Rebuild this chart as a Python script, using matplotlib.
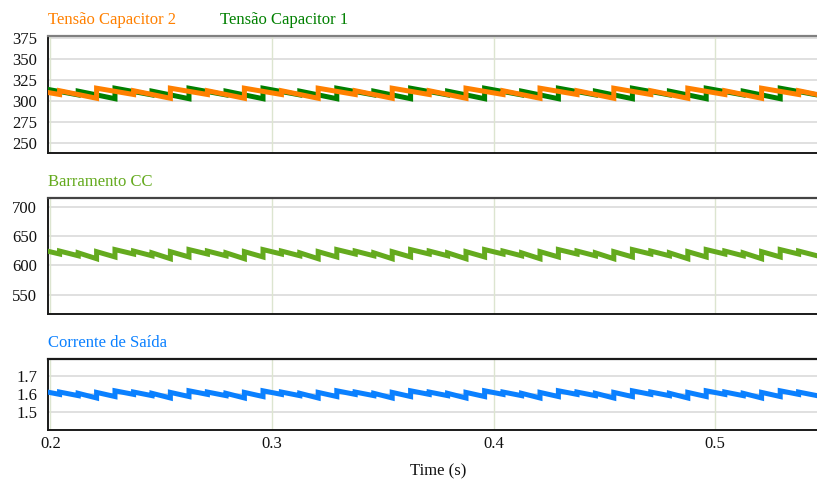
import matplotlib
matplotlib.use("Agg")
import matplotlib.pyplot as plt
import numpy as np

plt.rcParams['font.family'] = ['Liberation Serif', 'DejaVu Serif']

# ---------------- data ----------------
x_limits = (0.19901, 0.5459)
x_ticks = [0.2, 0.3, 0.4, 0.5]
x_ticklabels = ["0.2", "0.3", "0.4", "0.5"]

# Tensão Capacitor 2 (orange): jump instants, value before / after each jump
cap2_t = [0.2041, 0.2208, 0.2375, 0.2541, 0.2708, 0.2875, 0.3042, 0.3208, 0.3375,
          0.3542, 0.3709, 0.3875, 0.4042, 0.4209, 0.4376, 0.4542, 0.4709, 0.4876,
          0.5043, 0.5209, 0.5376]
cap2_before = [308.0, 303.5, 308.0, 303.5, 308.0, 303.5, 308.0, 303.5, 308.0, 303.5,
               308.0, 303.5, 308.0, 303.5, 308.0, 303.5, 308.0, 303.5, 308.0, 303.5, 308.0]
cap2_after = [312.5, 315.5, 312.5, 315.5, 312.5, 315.5, 312.5, 315.5, 312.5, 315.5,
              312.5, 315.5, 312.5, 315.5, 312.5, 315.5, 312.5, 315.5, 312.5, 315.5, 312.5]
cap2_start, cap2_end = 310.3, 308.0

# Tensão Capacitor 1 (green)
cap1_t = [0.2125, 0.2291, 0.2458, 0.2625, 0.2792, 0.2959, 0.3125, 0.3292, 0.3459,
          0.3625, 0.3792, 0.3959, 0.4126, 0.4292, 0.4459, 0.4626, 0.4793, 0.4959,
          0.5126, 0.5293]
cap1_before = [307.5, 303.0, 307.5, 303.0, 307.5, 303.0, 307.5, 303.0, 307.5, 303.0,
               307.5, 303.0, 307.5, 303.0, 307.5, 303.0, 307.5, 303.0, 307.5, 303.0]
cap1_after = [312.0, 315.5, 312.0, 315.5, 312.0, 315.5, 312.0, 315.5, 312.0, 315.5,
              312.0, 315.5, 312.0, 315.5, 312.0, 315.5, 312.0, 315.5, 312.0, 315.5]
cap1_start, cap1_end = 314.0, 307.5

# Barramento CC
bus_t = [0.2041, 0.2125, 0.2208, 0.2291, 0.2375, 0.2458, 0.2541, 0.2625, 0.2708,
         0.2792, 0.2875, 0.2959, 0.3042, 0.3125, 0.3208, 0.3292, 0.3375, 0.3459,
         0.3542, 0.3625, 0.3709, 0.3792, 0.3875, 0.3959, 0.4042, 0.4126, 0.4209,
         0.4292, 0.4376, 0.4459, 0.4542, 0.4626, 0.4709, 0.4793, 0.4876, 0.4959,
         0.5043, 0.5126, 0.5209, 0.5293, 0.5376]
bus_before = [619.5, 616.5, 611.5, 614.5] * 10 + [619.5]
bus_after = [624.5, 621.5, 623.5, 627.0] * 10 + [624.5]
bus_start, bus_end = 624.0, 616.5

# Corrente de Saída
cur_t = bus_t
cur_before = [1.598, 1.591, 1.578, 1.586] * 10 + [1.598]
cur_after = [1.611, 1.604, 1.609, 1.618] * 10 + [1.611]
cur_start, cur_end = 1.610, 1.591

# ---------------- helpers ----------------
def polyline(t_jumps, before, after, v0, v1):
    xs = [x_limits[0]]
    ys = [v0]
    for t, b, a in zip(t_jumps, before, after):
        xs += [t, t]
        ys += [b, a]
    xs.append(x_limits[1])
    ys.append(v1)
    return np.array(xs), np.array(ys)

C_ORANGE = "#FF8000"
C_DGREEN = "#008000"
C_LGREEN = "#64AA1E"
C_BLUE = "#0A80FF"

fig = plt.figure(figsize=(8.17, 4.82), dpi=100)
W, H = 817.0, 482.0
left = 48.3 / W
width = 1.0 - left
fs = 12

def make_ax(top_px, bot_px, ylim, yticks, top_col):
    ax = fig.add_axes([left, 1 - bot_px / H, width, (bot_px - top_px) / H])
    ax.set_xlim(*x_limits)
    ax.set_ylim(*ylim)
    ax.set_yticks(yticks)
    ax.set_xticks(x_ticks)
    ax.tick_params(length=0, labelsize=fs, pad=8, colors="#111111")
    for yv in yticks:
        ax.axhline(yv, color="#DADADA", lw=1.2, zorder=0)
    for xv in x_ticks:
        ax.axvline(xv, color="#DCE5D0", lw=1.0, zorder=0)
    ax.spines['right'].set_visible(False)
    ax.spines['top'].set_color(top_col)
    ax.spines['top'].set_linewidth(1.6)
    ax.spines['bottom'].set_color("#1a1a1a")
    ax.spines['bottom'].set_linewidth(1.4)
    ax.spines['left'].set_color("#1a1a1a")
    ax.spines['left'].set_linewidth(1.4)
    return ax

ax1 = make_ax(35.7, 152.7, (238.7, 378.0), [250, 275, 300, 325, 350, 375], "#808080")
ax2 = make_ax(197.7, 314.0, (517.7, 715.0), [550, 600, 650, 700], "#444444")
ax3 = make_ax(359.3, 430.0, (1.40, 1.793), [1.5, 1.6, 1.7], "#1a1a1a")

ax1.set_xticklabels([])
ax2.set_xticklabels([])
ax3.set_xticklabels(x_ticklabels)
ax3.tick_params(axis='x', pad=4)
ax3.set_yticklabels(["1.5", "1.6", "1.7"])

lw = 3.6
x, y = polyline(cap1_t, cap1_before, cap1_after, cap1_start, cap1_end)
ax1.plot(x, y, color=C_DGREEN, lw=lw, solid_joinstyle='miter', zorder=3)
x, y = polyline(cap2_t, cap2_before, cap2_after, cap2_start, cap2_end)
ax1.plot(x, y, color=C_ORANGE, lw=lw, solid_joinstyle='miter', zorder=4)
x, y = polyline(bus_t, bus_before, bus_after, bus_start, bus_end)
ax2.plot(x, y, color=C_LGREEN, lw=lw, solid_joinstyle='miter', zorder=3)
x, y = polyline(cur_t, cur_before, cur_after, cur_start, cur_end)
ax3.plot(x, y, color=C_BLUE, lw=lw, solid_joinstyle='miter', zorder=3)

fig.text(48 / W, 1 - 24 / H, "Tensão Capacitor 2", color=C_ORANGE, fontsize=fs, va='baseline', ha='left')
fig.text(220 / W, 1 - 24 / H, "Tensão Capacitor 1", color=C_DGREEN, fontsize=fs, va='baseline', ha='left')
fig.text(48 / W, 1 - 186 / H, "Barramento CC", color=C_LGREEN, fontsize=fs, va='baseline', ha='left')
fig.text(48 / W, 1 - 347 / H, "Corrente de Saída", color=C_BLUE, fontsize=fs, va='baseline', ha='left')
fig.text(438 / W, 1 - 471 / H, "Time (s)", color="#111111", fontsize=fs, va='center', ha='center')

fig.savefig("out.png", dpi=100)
